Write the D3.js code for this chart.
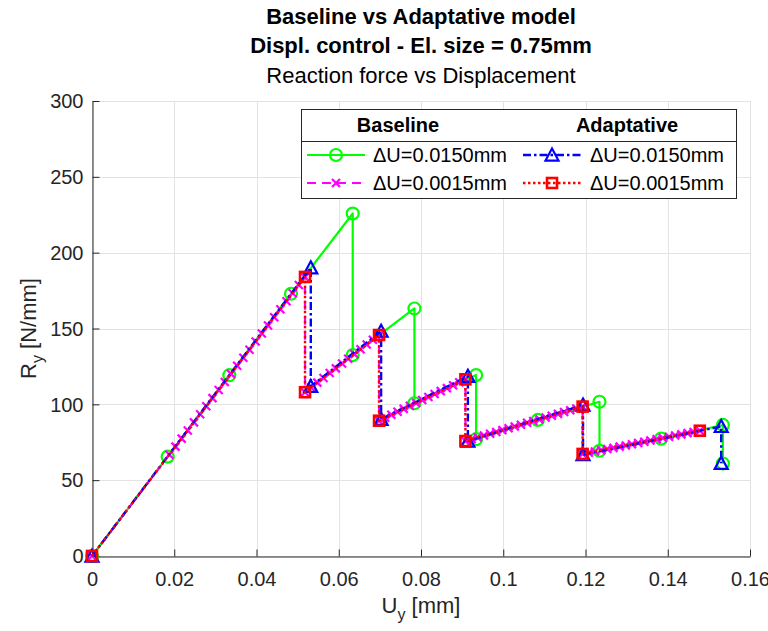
<!DOCTYPE html>
<html>
<head>
<meta charset="utf-8">
<script src="https://cdn.jsdelivr.net/npm/d3@7"></script>
<style>
  html, body { margin: 0; padding: 0; background: #ffffff; }
  svg { display: block; font-family: "Liberation Sans", Arial, Helvetica, sans-serif; }
</style>
</head>
<body>
<svg id="chart" width="768" height="631"></svg>
<script>
// Axis ticks
const xTicks = [0, 0.02, 0.04, 0.06, 0.08, 0.1, 0.12, 0.14, 0.16];
const xTickLabels = ["0", "0.02", "0.04", "0.06", "0.08", "0.1", "0.12", "0.14", "0.16"];
const yTicks = [0, 50, 100, 150, 200, 250, 300];
const yTickLabels = ["0", "50", "100", "150", "200", "250", "300"];

// Baseline model, ΔU = 0.0150 mm  (displacement U_y [mm], reaction R_y [N/mm])
const baseCoarseU = [0, 0.0184, 0.0334, 0.0484, 0.0634, 0.0634, 0.0784, 0.0784, 0.0934, 0.0934, 0.1084, 0.1234, 0.1234, 0.1384, 0.1534, 0.1534];
const baseCoarseR = [0, 65.5, 119.2, 172.9, 225.8, 132.5, 163.2, 100.7, 119.3, 77.0, 89.7, 101.7, 69.4, 77.4, 86.4, 61.0];

// Baseline model, ΔU = 0.0015 mm
const baseFineU = [0,
  0.0188, 0.0203, 0.0218, 0.0233, 0.0248, 0.0263, 0.0278, 0.0293, 0.0308, 0.0323, 0.0338, 0.0353, 0.0368, 0.0383, 0.0398, 0.0413, 0.0428, 0.0443, 0.0458, 0.0473, 0.0488, 0.0503, 0.0518,
  0.0518, 0.0533, 0.0548, 0.0563, 0.0578, 0.0593, 0.0608, 0.0623, 0.0638, 0.0653, 0.0668, 0.0683, 0.0698,
  0.0698, 0.0713, 0.0728, 0.0743, 0.0758, 0.0773, 0.0788, 0.0803, 0.0818, 0.0833, 0.0848, 0.0863, 0.0878, 0.0893, 0.0908,
  0.0908, 0.0923, 0.0938, 0.0953, 0.0968, 0.0983, 0.0998, 0.1013, 0.1028, 0.1043, 0.1058, 0.1073, 0.1088, 0.1103, 0.1118, 0.1133, 0.1148, 0.1163, 0.1178, 0.1193,
  0.1193, 0.1208, 0.1223, 0.1238, 0.1253, 0.1268, 0.1283, 0.1298, 0.1313, 0.1328, 0.1343, 0.1358, 0.1373, 0.1388, 0.1403, 0.1418, 0.1433, 0.1448, 0.1463, 0.1478];
const baseFineR = [0,
  66.8, 72.1, 77.4, 82.8, 88.1, 93.4, 98.7, 104.1, 109.4, 114.7, 120.1, 125.4, 130.7, 136.0, 141.4, 146.7, 152.0, 157.4, 162.7, 168.0, 173.3, 178.7, 184.0,
  108.0, 111.1, 114.3, 117.4, 120.6, 123.7, 126.9, 130.0, 133.1, 136.3, 139.4, 142.6, 145.7,
  89.2, 91.2, 93.1, 95.1, 97.0, 99.0, 100.9, 102.9, 104.8, 106.8, 108.7, 110.7, 112.6, 114.6, 116.5,
  75.8, 77.0, 78.2, 79.4, 80.6, 81.8, 83.0, 84.2, 85.4, 86.6, 87.8, 89.0, 90.1, 91.3, 92.5, 93.7, 94.9, 96.1, 97.3, 98.5,
  67.3, 68.1, 68.9, 69.7, 70.5, 71.3, 72.1, 72.9, 73.7, 74.5, 75.3, 76.2, 77.0, 77.8, 78.6, 79.4, 80.2, 81.0, 81.8, 82.6];

// Adaptative model, ΔU = 0.0150 mm
const adaptCoarseU = [0, 0.0532, 0.0532, 0.0703, 0.0703, 0.0914, 0.0914, 0.1194, 0.1194, 0.1530, 0.1530];
const adaptCoarseR = [0, 190.0, 111.8, 148.2, 90.1, 118.5, 75.8, 99.5, 66.8, 85.4, 61.1];

// Adaptative model, ΔU = 0.0015 mm
const adaptFineU = [0, 0.0518, 0.0518, 0.0698, 0.0698, 0.0908, 0.0908, 0.1193, 0.1193, 0.1478];
const adaptFineR = [0, 184.0, 108.0, 145.7, 89.2, 116.5, 75.8, 98.5, 67.3, 82.6];

// Legend text
const legendHeaders = ["Baseline", "Adaptative"];
const seriesLabels = ["\u0394U=0.0150mm", "\u0394U=0.0015mm", "\u0394U=0.0150mm", "\u0394U=0.0015mm"];

// Series styling, in drawing order (column-major in the legend)
const series = [
  { u: baseCoarseU,  r: baseCoarseR,  color: "#00ff00", dash: null,        marker: "circle",   width: 2.2 },
  { u: baseFineU,    r: baseFineR,    color: "#ff00ff", dash: "9,6",       marker: "cross",    width: 2.2 },
  { u: adaptCoarseU, r: adaptCoarseR, color: "#0000ff", dash: "8,3,2.5,3", marker: "triangle", width: 2.4 },
  { u: adaptFineU,   r: adaptFineR,   color: "#ff0000", dash: "2.5,2.5",   marker: "square",   width: 2.4 }
];

const svg = d3.select("#chart");
const W = 768, H = 631;
const plot = { left: 92, right: 750, top: 101, bottom: 556 };

const x = d3.scaleLinear().domain([0, 0.16]).range([plot.left, plot.right]);
const y = d3.scaleLinear().domain([0, 300]).range([plot.bottom, plot.top]);

svg.append("rect").attr("width", W).attr("height", H).attr("fill", "#ffffff");

// Grid
const grid = svg.append("g").attr("stroke", "#e3e3e3").attr("stroke-width", 1);
grid.selectAll("line.vx").data(xTicks).join("line")
  .attr("x1", d => Math.round(x(d)) + 0.5).attr("x2", d => Math.round(x(d)) + 0.5)
  .attr("y1", plot.top).attr("y2", plot.bottom);
grid.selectAll("line.hy").data(yTicks).join("line")
  .attr("y1", d => Math.round(y(d)) + 0.5).attr("y2", d => Math.round(y(d)) + 0.5)
  .attr("x1", plot.left).attr("x2", plot.right);

// Axes
const axisColor = "#262626";
const xAxis = svg.append("g")
  .attr("transform", `translate(0,${plot.bottom + 0.5})`)
  .call(d3.axisBottom(x).tickValues(xTicks).tickFormat((d, i) => xTickLabels[i])
    .tickSizeInner(-7).tickSizeOuter(0).tickPadding(15));
const yAxis = svg.append("g")
  .attr("transform", `translate(${plot.left + 0.5},0)`)
  .call(d3.axisLeft(y).tickValues(yTicks).tickFormat((d, i) => yTickLabels[i])
    .tickSizeInner(-7).tickSizeOuter(0).tickPadding(9));
[xAxis, yAxis].forEach(a => {
  a.select(".domain").attr("stroke", axisColor).attr("stroke-width", 1);
  a.selectAll(".tick line").attr("stroke", axisColor).attr("stroke-width", 1);
  a.selectAll(".tick text").attr("fill", axisColor).attr("font-size", 20)
    .attr("font-family", "Liberation Sans, Arial, sans-serif");
});
yAxis.selectAll(".tick text").attr("dy", "0.34em");

// Marker glyphs
function drawMarker(g, type, color, cx, cy) {
  if (type === "circle") {
    g.append("circle").attr("cx", cx).attr("cy", cy).attr("r", 6)
      .attr("fill", "none").attr("stroke", color).attr("stroke-width", 2.2);
  } else if (type === "cross") {
    const s = 4;
    g.append("path").attr("d", `M${cx - s},${cy - s}L${cx + s},${cy + s}M${cx - s},${cy + s}L${cx + s},${cy - s}`)
      .attr("fill", "none").attr("stroke", color).attr("stroke-width", 2.2);
  } else if (type === "triangle") {
    const s = 6.5;
    g.append("path").attr("d", `M${cx},${cy - s}L${cx + s},${cy + s * 0.85}L${cx - s},${cy + s * 0.85}Z`)
      .attr("fill", "none").attr("stroke", color).attr("stroke-width", 2.2).attr("stroke-linejoin", "miter");
  } else if (type === "square") {
    const s = 5;
    g.append("rect").attr("x", cx - s).attr("y", cy - s).attr("width", 2 * s).attr("height", 2 * s)
      .attr("fill", "none").attr("stroke", color).attr("stroke-width", 2.6);
  }
}

// Data series
const line = d3.line().x(d => x(d[0])).y(d => y(d[1]));
series.forEach(s => {
  const pts = d3.zip(s.u, s.r);
  const g = svg.append("g");
  g.append("path").datum(pts).attr("d", line)
    .attr("fill", "none").attr("stroke", s.color).attr("stroke-width", s.width)
    .attr("stroke-dasharray", s.dash).attr("stroke-linejoin", "round");
  pts.forEach(p => drawMarker(g, s.marker, s.color, x(p[0]), y(p[1])));
});

// Titles
const cx = (plot.left + plot.right) / 2;
svg.append("text").attr("x", cx).attr("y", 24).attr("text-anchor", "middle")
  .attr("font-size", 22).attr("font-weight", "bold").attr("fill", "#000")
  .text("Baseline vs Adaptative model");
svg.append("text").attr("x", cx).attr("y", 53).attr("text-anchor", "middle")
  .attr("font-size", 22).attr("font-weight", "bold").attr("fill", "#000")
  .text("Displ. control - El. size = 0.75mm");
svg.append("text").attr("x", cx).attr("y", 83).attr("text-anchor", "middle")
  .attr("font-size", 22).attr("fill", "#000")
  .text("Reaction force vs Displacement");

// Axis labels
const xl = svg.append("text").attr("x", cx).attr("y", 613).attr("text-anchor", "middle")
  .attr("font-size", 22).attr("fill", axisColor);
xl.append("tspan").text("U");
xl.append("tspan").attr("font-size", 16).attr("dy", 7).text("y");
xl.append("tspan").attr("dy", -7).text(" [mm]");

const yl = svg.append("text").attr("transform", `translate(36,${(plot.top + plot.bottom) / 2}) rotate(-90)`)
  .attr("text-anchor", "middle").attr("font-size", 22).attr("fill", axisColor);
yl.append("tspan").text("R");
yl.append("tspan").attr("font-size", 16).attr("dy", 7).text("y");
yl.append("tspan").attr("dy", -7).text(" [N/mm]");

// Legend
const lg = svg.append("g");
const box = { x: 301, y: 109, w: 435, h: 89, sep: 141 };
lg.append("rect").attr("x", box.x + 0.5).attr("y", box.y + 0.5).attr("width", box.w).attr("height", box.h)
  .attr("fill", "#ffffff").attr("stroke", axisColor).attr("stroke-width", 1);
lg.append("line").attr("x1", box.x).attr("x2", box.x + box.w).attr("y1", box.sep + 0.5).attr("y2", box.sep + 0.5)
  .attr("stroke", axisColor).attr("stroke-width", 1);
const colLineX = [307, 523];
const colTextX = [373, 590];
const headerX = [398, 627];
const rowY = [155, 183];
legendHeaders.forEach((h, i) => {
  lg.append("text").attr("x", headerX[i]).attr("y", 132).attr("text-anchor", "middle")
    .attr("font-size", 20).attr("font-weight", "bold").attr("fill", "#000").text(h);
});
series.forEach((s, i) => {
  const col = Math.floor(i / 2), row = i % 2;
  const ly = rowY[row];
  const x0 = colLineX[col], x1 = x0 + 58;
  lg.append("line").attr("x1", x0).attr("x2", x1).attr("y1", ly).attr("y2", ly)
    .attr("stroke", s.color).attr("stroke-width", s.width).attr("stroke-dasharray", s.dash);
  drawMarker(lg, s.marker, s.color, (x0 + x1) / 2, ly);
  lg.append("text").attr("x", colTextX[col]).attr("y", ly + 7)
    .attr("font-size", 20).attr("fill", "#000").text(seriesLabels[i]);
});
</script>
</body>
</html>
